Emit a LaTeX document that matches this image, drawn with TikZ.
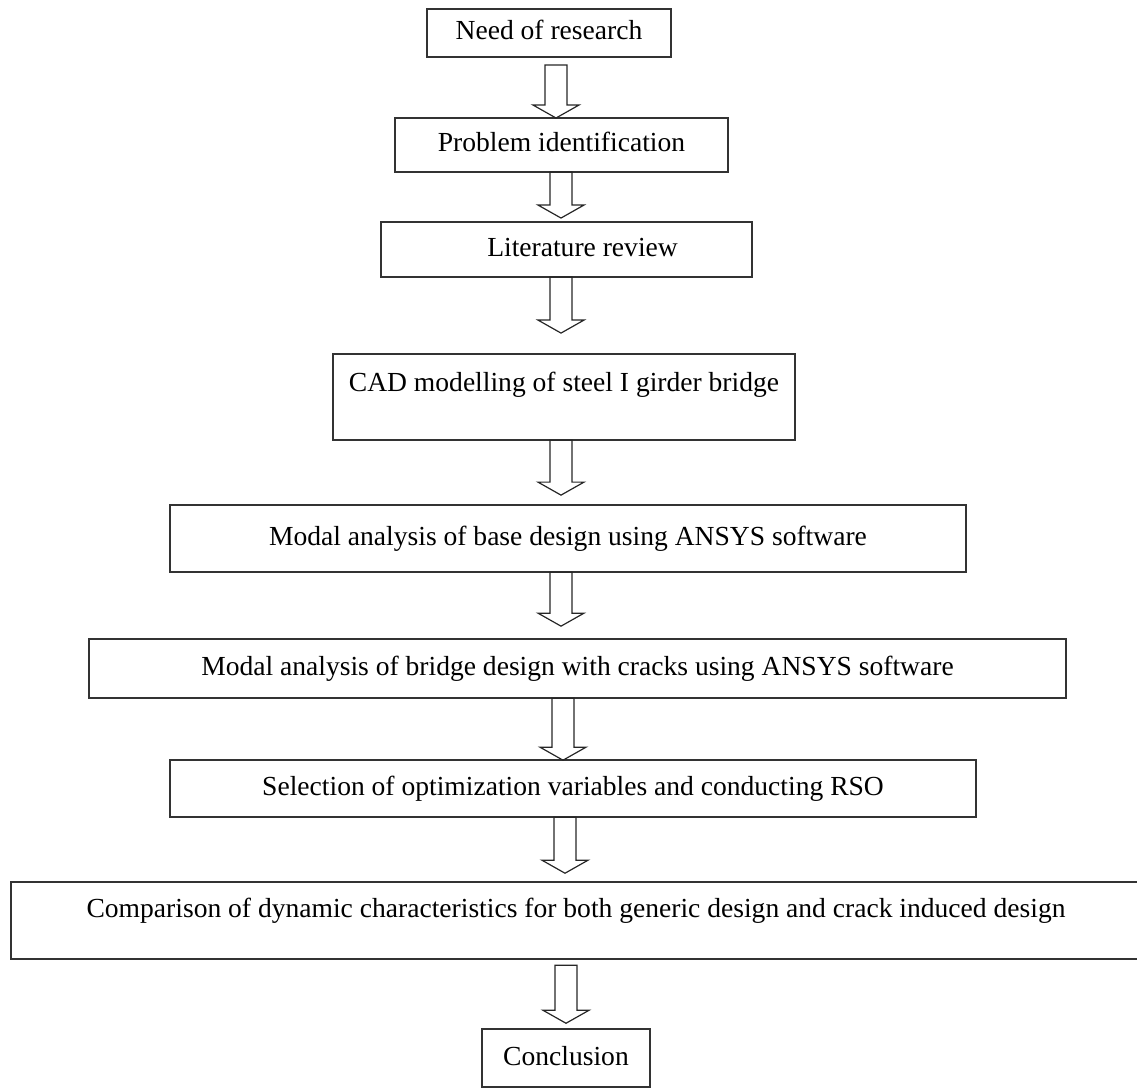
\documentclass[tikz,border=0pt]{standalone}
\usepackage{fontspec}
\setmainfont{Liberation Serif}
\usepackage{tikz}
\usetikzlibrary{positioning, calc}
\tikzset{
    box/.style={
        rectangle, draw=black!80, fill=white,
        inner sep=0pt, outer sep=0pt,
        text height=0.48cm, text depth=0.14cm,
        align=center, line width=1.4pt,
    },
    tallbox/.style={
        box, text height=0.93cm, text depth=1.22cm,
    },
    hollow/.style={
        draw=black!85, line width=0.85pt, line join=miter,
        to path={
            ($(\tikztostart)+(-11,0)$) -- ($(\tikztotarget)+(-11,-13)$)
            -- ($(\tikztotarget)+(-23,-13)$) -- (\tikztotarget)
            -- ($(\tikztotarget)+(23,-13)$) -- ($(\tikztotarget)+(11,-13)$)
            -- ($(\tikztostart)+(11,0)$) -- cycle
        },
    },
}

\begin{document}
\begin{tikzpicture}[x=0.025cm, y=-0.025cm, font=\fontsize{19.6}{23}\selectfont]
    \useasboundingbox (0,0) rectangle (1137,1090);
    \coordinate (axis) at (561,0);

    \node[box, minimum width=6.1cm, minimum height=1.2cm] (b1) at (549,33)
        {Need of research};
    \node[box, minimum width=8.325cm, minimum height=1.35cm,
          below=1.525cm of b1, xshift=0.3125cm] (b2)
        {Problem identification};
    \node[box, minimum width=9.275cm, minimum height=1.375cm,
          below=1.25cm of b2, xshift=0.125cm] (b3)
        {\hspace*{0.8cm}Literature review};
    \node[tallbox, minimum width=11.55cm,
          below=1.925cm of b3, xshift=-0.0625cm] (b4)
        {CAD modelling of steel I girder bridge};
    \node[box, minimum width=19.9cm, minimum height=1.675cm,
          below=1.625cm of b4, xshift=0.1cm] (b5)
        {Modal analysis of base design using ANSYS software};
    \node[box, minimum width=24.425cm, minimum height=1.475cm,
          below=1.675cm of b5, xshift=0.2375cm] (b6)
        {Modal analysis of bridge design with cracks using ANSYS software};
    \node[box, minimum width=20.15cm, minimum height=1.425cm,
          below=1.55cm of b6, xshift=-0.1125cm] (b7)
        {Selection of optimization variables and conducting RSO};
    \node[tallbox, minimum width=28.25cm, text height=0.875cm, text depth=1.05cm,
          below=1.625cm of b7, xshift=0.075cm] (b8)
        {Comparison of dynamic characteristics for both generic design and crack induced design};
    \node[box, minimum width=4.2cm, minimum height=1.45cm,
          below=1.75cm of b8, xshift=-0.25cm] (b9)
        {Conclusion};

    % hollow block arrows, all hanging off the same vertical axis
    \draw[hollow] ($(b1.south -| axis)+(-5,8)$) to ($(b2.north -| axis)+(-5,0)$);
    \draw[hollow] (b2.south -| axis) to ($(b3.north -| axis)+(0,-4)$);
    \draw[hollow] (b3.south -| axis) to ($(b4.north -| axis)+(0,-21)$);
    \draw[hollow] (b4.south -| axis) to ($(b5.north -| axis)+(0,-10)$);
    \draw[hollow] (b5.south -| axis) to ($(b6.north -| axis)+(0,-13)$);
    \draw[hollow] ($(b6.south -| axis)+(2,0)$) to ($(b7.north -| axis)+(2,0)$);
    \draw[hollow] ($(b7.south -| axis)+(4,0)$) to ($(b8.north -| axis)+(4,-9)$);
    \draw[hollow] ($(b8.south -| axis)+(5,6)$) to ($(b9.north -| axis)+(5,-6)$);
\end{tikzpicture}
\end{document}
